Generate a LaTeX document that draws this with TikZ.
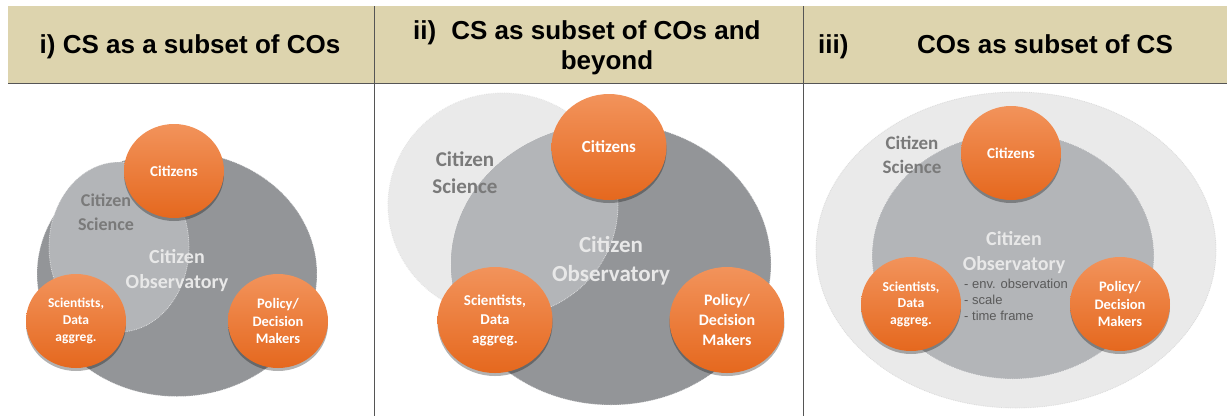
\documentclass[tikz,border=0pt]{standalone}
\usepackage{fontspec}
\setmainfont{Carlito}
\newfontfamily\arialf{Liberation Sans}
\usetikzlibrary{shapes.geometric,shadows}
\definecolor{hdr}{HTML}{DDD4AE}
\definecolor{codark}{HTML}{939598}
\definecolor{colight}{HTML}{B3B5B8}
\definecolor{cspale}{HTML}{EAEAEA}
\definecolor{orTop}{HTML}{F2935B}
\definecolor{orBot}{HTML}{E5681E}
\definecolor{cstext}{HTML}{7A7A7A}
\definecolor{cotext}{HTML}{E8E8E8}
\definecolor{rulec}{HTML}{555555}
\definecolor{listc}{HTML}{5A5A5A}
\tikzset{
  blob/.style={ellipse, inner sep=0pt, draw=white, draw opacity=0.6, densely dotted, line width=0.8pt},
  actor/.style={ellipse, inner sep=0pt, top color=orTop, bottom color=orBot, draw=none,
    drop shadow={shadow xshift=0pt, shadow yshift=-3pt, opacity=0.3, fill=black},
    text=white, align=center},
  hdrtext/.style={font=\arialf\bfseries\fontsize{26}{30}\selectfont, inner sep=0pt},
  cslabel/.style={text=cstext, align=center, font=\bfseries, inner sep=0pt},
  colabel/.style={text=cotext, align=center, font=\bfseries, inner sep=0pt},
}
\begin{document}
\begin{tikzpicture}[x=1pt,y=-1pt]
\useasboundingbox (0,0) rectangle (1227,416);
\fill[white] (0,0) rectangle (1227,416);
% header band and rules
\fill[hdr] (8,6) rectangle (1227,83);
\draw[rulec, line width=0.9pt] (8,83) -- (1227,83);
\draw[rulec, line width=0.9pt] (374,6) -- (374,416);
\draw[rulec, line width=0.9pt] (803,6) -- (803,416);
% headers
\node[hdrtext, anchor=base] (h1) at (190,53) {i) CS as a subset of COs};
\node[hdrtext, anchor=base west] (h2n) at (413,39) {ii)};
\node[hdrtext, anchor=base] (h2a) at (606,39) {CS as subset of COs and};
\node[hdrtext, anchor=base] (h2b) at (607,69) {beyond};
\node[hdrtext, anchor=base west] (h3n) at (818,53) {iii)};
\node[hdrtext, anchor=base] (h3) at (1045,53) {COs as subset of CS};

% ---------- Panel i ----------
\node[blob, fill=codark, minimum width=280pt, minimum height=245pt] (co1) at (177,274) {};
\node[blob, fill=colight, minimum width=140pt, minimum height=170pt] (cs1) at (119,247) {};
\node[cslabel, font=\bfseries\fontsize{18}{24}\selectfont] (cs1t) at (106,212) {Citizen\\Science};
\node[colabel, font=\bfseries\fontsize{20}{25}\selectfont] (co1t) at (177,271) {Citizen\\Observatory};
\node[actor, minimum width=100pt, minimum height=94pt, font=\bfseries\fontsize{15}{17}\selectfont] (cit1) at (174,171) {Citizens};
\node[actor, minimum width=100pt, minimum height=94pt, font=\bfseries\fontsize{13.5}{16.7}\selectfont] (sci1) at (76,321) {Scientists,\\Data\\aggreg.};
\node[actor, minimum width=100pt, minimum height=94pt, font=\bfseries\fontsize{14.5}{17.7}\selectfont] (pol1) at (278,321) {Policy/\\Decision\\Makers};

% ---------- Panel ii ----------
\node[blob, fill=cspale, draw=gray!40, minimum width=230pt, minimum height=224pt] (cs2) at (503,205) {};
\node[blob, fill=codark, minimum width=320pt, minimum height=282pt] (co2) at (611,264) {};
\begin{scope}
  \clip (503,205) ellipse [x radius=115, y radius=112];
  \fill[colight] (611,264) ellipse [x radius=160, y radius=141];
\end{scope}
\draw[white, opacity=0.6, densely dotted, line width=0.8pt] (503,205) ellipse [x radius=115, y radius=112];
\node[cslabel, font=\bfseries\fontsize{21}{27}\selectfont] (cs2t) at (465,173) {Citizen\\Science};
\node[colabel, font=\bfseries\fontsize{23}{29}\selectfont] (co2t) at (611,261) {Citizen\\Observatory};
\node[actor, minimum width=115pt, minimum height=106pt, font=\bfseries\fontsize{17}{20}\selectfont] (cit2) at (609,147) {Citizens};
\node[actor, minimum width=115pt, minimum height=106pt, font=\bfseries\fontsize{15}{19}\selectfont] (sci2) at (495,320) {Scientists,\\Data\\aggreg.};
\node[actor, minimum width=115pt, minimum height=106pt, font=\bfseries\fontsize{16}{20}\selectfont] (pol2) at (727,320) {Policy/\\Decision\\Makers};

% ---------- Panel iii ----------
\node[blob, fill=cspale, draw=gray!40, minimum width=400pt, minimum height=316pt] (cs3) at (1016,250) {};
\node[blob, fill=colight, minimum width=282pt, minimum height=246pt] (co3) at (1013,256) {};
\node[cslabel, font=\bfseries\fontsize{19}{24}\selectfont] (cs3t) at (912,155) {Citizen\\Science};
\node[colabel, font=\bfseries\fontsize{20}{25}\selectfont] (co3t) at (1014,253) {Citizen\\Observatory};
\node[text=listc, align=left, anchor=west, inner sep=0pt, font=\arialf\fontsize{13}{16}\selectfont] (list3) at (964,300) {- env. observation\\- scale\\- time frame};
\node[actor, minimum width=100pt, minimum height=94pt, font=\bfseries\fontsize{15}{17}\selectfont] (cit3) at (1011,153) {Citizens};
\node[actor, minimum width=100pt, minimum height=94pt, font=\bfseries\fontsize{13.7}{16.5}\selectfont] (sci3) at (911,304) {Scientists,\\Data\\aggreg.};
\node[actor, minimum width=100pt, minimum height=94pt, font=\bfseries\fontsize{14.5}{17.5}\selectfont] (pol3) at (1120,304) {Policy/\\Decision\\Makers};
\end{tikzpicture}
\end{document}
